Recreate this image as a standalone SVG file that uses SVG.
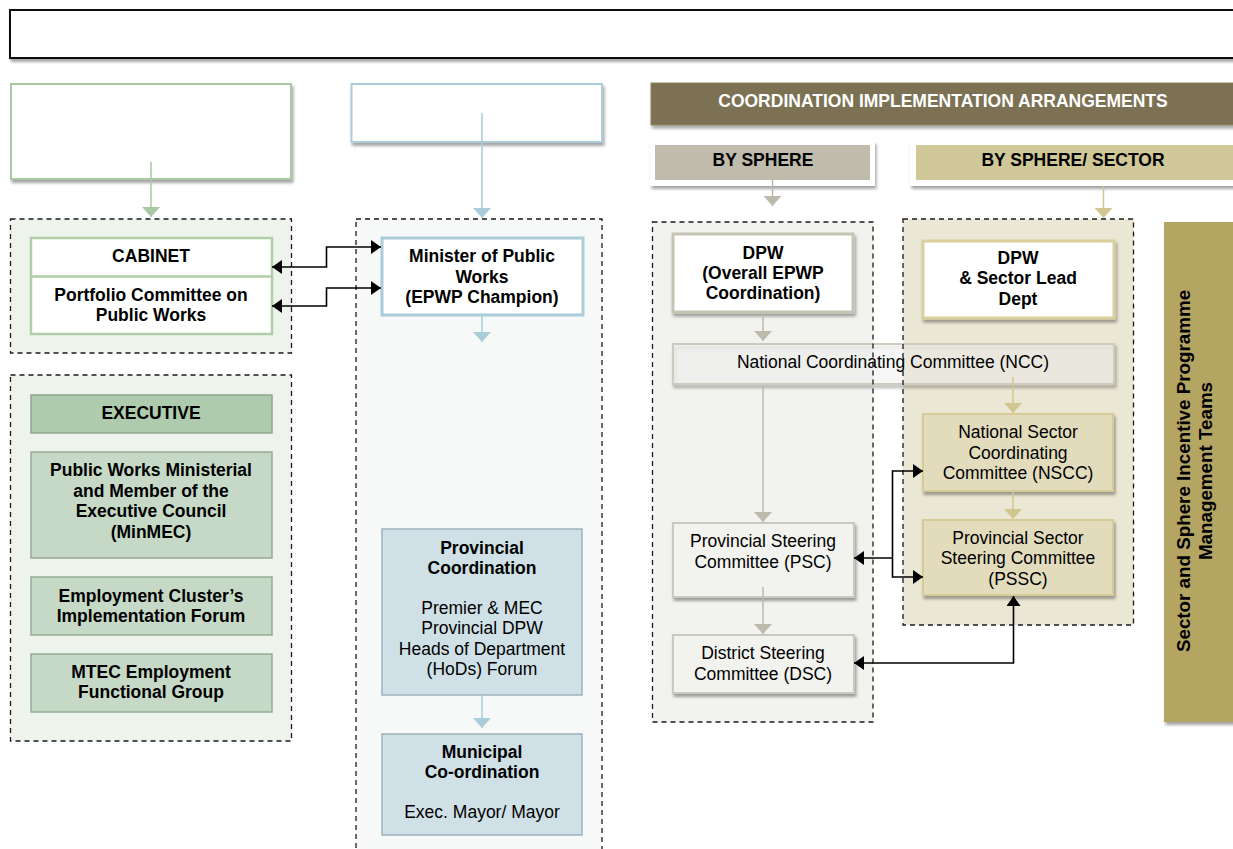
<svg xmlns="http://www.w3.org/2000/svg" width="1233" height="849" viewBox="0 0 1233 849">
<defs>
<filter id="sh" x="-10%" y="-10%" width="130%" height="140%">
<feDropShadow dx="1.5" dy="3" stdDeviation="1.8" flood-color="#000" flood-opacity="0.35"/>
</filter>
<marker id="aG" viewBox="0 0 10 18" refX="10" refY="9" markerWidth="10" markerHeight="18" orient="auto" markerUnits="userSpaceOnUse"><path d="M0,0 L10,9 L0,18 z" fill="#a9c8a3"/></marker>
<marker id="aB" viewBox="0 0 10 18" refX="10" refY="9" markerWidth="10" markerHeight="18" orient="auto" markerUnits="userSpaceOnUse"><path d="M0,0 L10,9 L0,18 z" fill="#a9cdd9"/></marker>
<marker id="aS" viewBox="0 0 10 18" refX="10" refY="9" markerWidth="10" markerHeight="18" orient="auto" markerUnits="userSpaceOnUse"><path d="M0,0 L10,9 L0,18 z" fill="#bcbaab"/></marker>
<marker id="aT" viewBox="0 0 10 18" refX="10" refY="9" markerWidth="10" markerHeight="18" orient="auto" markerUnits="userSpaceOnUse"><path d="M0,0 L10,9 L0,18 z" fill="#d2c690"/></marker>
<marker id="aK" viewBox="0 0 10 14" refX="10" refY="7" markerWidth="10" markerHeight="14" orient="auto-start-reverse" markerUnits="userSpaceOnUse"><path d="M0,0 L10,7 L0,14 z" fill="#000"/></marker>
</defs>
<style>
text{font-family:"Liberation Sans",Arial,Helvetica,sans-serif;font-size:17.5px;fill:#000;text-anchor:middle}
.b{font-weight:bold}
.w{fill:#fff}
.rot{font-size:18.8px}
.dash{fill:none;stroke:#1a1a1a;stroke-width:1.3;stroke-dasharray:5,4}
.cG{fill:none;stroke:#a9c8a3;stroke-width:1.5}
.cB{fill:none;stroke:#a9cdd9;stroke-width:1.5}
.cS{fill:none;stroke:#bcbaab;stroke-width:1.5}
.cT{fill:none;stroke:#d2c690;stroke-width:1.5}
.cK{fill:none;stroke:#000;stroke-width:1.6}
.exec{fill:#c6d9c6;stroke:#95aa95;stroke-width:1.5}
.blu{fill:#cfe0e6;stroke:#9db4bb;stroke-width:1.5}
.tan{fill:#e2dcbd;stroke:#d6cb97;stroke-width:2}
.gry{fill:#f2f2ee;stroke:#cac9bc;stroke-width:2}
</style>
<rect width="1233" height="849" fill="#fff"/>

<g id="title-frame">
<rect x="10" y="10" width="1240" height="48" fill="#fff" stroke="#111" stroke-width="2" filter="url(#sh)"/>
</g>

<g id="group-fills">
<rect x="10.5" y="219" width="281" height="134" fill="#eef4ec"/>
<rect x="10.5" y="375" width="281" height="366" fill="#eef4ec"/>
<rect x="356" y="219" width="246" height="640" fill="#f7f9f9"/>
<rect x="652.5" y="222" width="220.5" height="500" fill="#f2f2ee"/>
<rect x="903" y="219" width="230.5" height="406" fill="#ebe7d5"/>
</g>

<g id="node-ncc">
<rect x="673" y="344" width="441" height="40" fill="#fff" fill-opacity="0.35" stroke="#cdcbbd" stroke-width="2" filter="url(#sh)"/>
<text x="893" y="368">National Coordinating Committee (NCC)</text>
</g>

<g id="group-borders">
<rect class="dash" x="10.5" y="219" width="281" height="134"/>
<rect class="dash" x="10.5" y="375" width="281" height="366"/>
<rect class="dash" x="356" y="219" width="246" height="640"/>
<rect class="dash" x="652.5" y="222" width="220.5" height="500"/>
<rect class="dash" x="903" y="219" width="230.5" height="406"/>
</g>

<g id="header-green">
<rect x="11" y="84" width="280" height="95" fill="#fff" stroke="#a9c8a3" stroke-width="2" filter="url(#sh)"/>
</g>
<g id="header-blue">
<rect x="351.5" y="84" width="250.5" height="58" fill="#fff" stroke="#a9cdd9" stroke-width="2" filter="url(#sh)"/>
</g>
<g id="header-coordination">
<rect x="651" y="83" width="600" height="42" fill="#7b7253" stroke="#8d8560" stroke-width="1" filter="url(#sh)"/>
<text class="b w" x="943" y="107">COORDINATION IMPLEMENTATION ARRANGEMENTS</text>
</g>
<g id="header-sphere">
<rect x="650" y="141" width="225" height="45" fill="#fff" filter="url(#sh)"/>
<rect x="655" y="145" width="215" height="35" fill="#bfbcad"/>
<text class="b" x="763" y="166">BY SPHERE</text>
</g>
<g id="header-sphere-sector">
<rect x="910" y="141" width="340" height="45" fill="#fff" filter="url(#sh)"/>
<rect x="916" y="145" width="330" height="35" fill="#d1c899"/>
<text class="b" x="1073" y="166">BY SPHERE/ SECTOR</text>
</g>

<g id="node-cabinet">
<rect x="31" y="238" width="241" height="96" fill="#fff" stroke="#b0cfa9" stroke-width="2.5"/>
<line x1="31" y1="276.5" x2="272" y2="276.5" stroke="#b0cfa9" stroke-width="2.5"/>
<text class="b" x="151" y="262">CABINET</text>
<text class="b" x="151" y="301">Portfolio Committee on</text>
<text class="b" x="151" y="321">Public Works</text>
</g>

<g id="node-executive">
<rect x="31" y="395" width="241" height="38" fill="#afcbad" stroke="#8fa58c" stroke-width="1.5"/>
<text class="b" x="151" y="419">EXECUTIVE</text>
</g>
<g id="node-minmec">
<rect class="exec" x="31" y="452" width="241" height="106"/>
<text class="b" x="151" y="476">Public Works Ministerial</text>
<text class="b" x="151" y="496.5">and Member of the</text>
<text class="b" x="151" y="517">Executive Council</text>
<text class="b" x="151" y="537.5">(MinMEC)</text>
</g>
<g id="node-employment-cluster">
<rect class="exec" x="31" y="577" width="241" height="58"/>
<text class="b" x="151" y="602">Employment Cluster’s</text>
<text class="b" x="151" y="622">Implementation Forum</text>
</g>
<g id="node-mtec">
<rect class="exec" x="31" y="654" width="241" height="58"/>
<text class="b" x="151" y="678">MTEC Employment</text>
<text class="b" x="151" y="698">Functional Group</text>
</g>

<g id="node-minister">
<rect x="382" y="238" width="201" height="77" fill="#fff" stroke="#a9cdd9" stroke-width="3"/>
<text class="b" x="482" y="262">Minister of Public</text>
<text class="b" x="482" y="283">Works</text>
<text class="b" x="482" y="303">(EPWP Champion)</text>
</g>
<g id="node-provincial-coordination">
<rect class="blu" x="382" y="529" width="200" height="166"/>
<text class="b" x="482" y="554">Provincial</text>
<text class="b" x="482" y="574">Coordination</text>
<text x="482" y="614">Premier &amp; MEC</text>
<text x="482" y="634">Provincial DPW</text>
<text x="482" y="655">Heads of Department</text>
<text x="482" y="675">(HoDs) Forum</text>
</g>
<g id="node-municipal">
<rect class="blu" x="382" y="734" width="200" height="101"/>
<text class="b" x="482" y="758">Municipal</text>
<text class="b" x="482" y="778">Co-ordination</text>
<text x="482" y="818">Exec. Mayor/ Mayor</text>
</g>

<g id="node-dpw">
<rect x="673" y="234" width="180" height="78" fill="#fff" stroke="#c5c3b4" stroke-width="3" filter="url(#sh)"/>
<text class="b" x="763" y="259">DPW</text>
<text class="b" x="763" y="279">(Overall EPWP</text>
<text class="b" x="763" y="299">Coordination)</text>
</g>
<g id="node-dpw-sector">
<rect x="923" y="241" width="191" height="77" fill="#fff" stroke="#dacf9b" stroke-width="3" filter="url(#sh)"/>
<text class="b" x="1018" y="264">DPW</text>
<text class="b" x="1018" y="284">&amp; Sector Lead</text>
<text class="b" x="1018" y="305">Dept</text>
</g>
<g id="node-nscc">
<rect class="tan" x="923" y="414" width="190" height="77" filter="url(#sh)"/>
<text x="1018" y="438">National Sector</text>
<text x="1018" y="459">Coordinating</text>
<text x="1018" y="479">Committee (NSCC)</text>
</g>
<g id="node-pssc">
<rect class="tan" x="923" y="520" width="190" height="75" filter="url(#sh)"/>
<text x="1018" y="544">Provincial Sector</text>
<text x="1018" y="564">Steering Committee</text>
<text x="1018" y="585">(PSSC)</text>
</g>
<g id="node-psc">
<rect class="gry" x="673" y="523" width="181" height="74" filter="url(#sh)"/>
<text x="763" y="547">Provincial Steering</text>
<text x="763" y="568">Committee (PSC)</text>
</g>
<g id="node-dsc">
<rect class="gry" x="673" y="635" width="181" height="58" filter="url(#sh)"/>
<text x="763" y="659">District Steering</text>
<text x="763" y="680">Committee (DSC)</text>
</g>

<g id="node-management-teams">
<rect x="1164" y="222" width="90" height="500" fill="#b4a563" filter="url(#sh)"/>
<text class="b rot" transform="rotate(-90 1190 471)" x="1190" y="471">Sector and Sphere Incentive Programme</text>
<text class="b rot" transform="rotate(-90 1212 471)" x="1212" y="471">Management Teams</text>
</g>

<g id="connectors">
<path class="cG" d="M151,162 V217" marker-end="url(#aG)"/>
<path class="cB" d="M482,113 V218" marker-end="url(#aB)"/>
<path class="cB" d="M482,315 V342" marker-end="url(#aB)"/>
<path class="cB" d="M482,695 V728" marker-end="url(#aB)"/>
<path class="cK" d="M272,267 H326.5 V247 H381" marker-start="url(#aK)" marker-end="url(#aK)"/>
<path class="cK" d="M272,306 H326.5 V288 H381" marker-start="url(#aK)" marker-end="url(#aK)"/>
<path class="cS" d="M772.5,180 V206" marker-end="url(#aS)"/>
<path class="cT" d="M1103.5,186 V218" marker-end="url(#aT)"/>
<path class="cS" d="M763,312 V341" marker-end="url(#aS)"/>
<path class="cS" d="M763,385 V522" marker-end="url(#aS)"/>
<path class="cT" d="M1013,377 V413" marker-end="url(#aT)"/>
<path class="cT" d="M1013,491 V519" marker-end="url(#aT)"/>
<path class="cS" d="M763,587 V634" marker-end="url(#aS)"/>
<path class="cK" d="M923,471 H892.5 V577 H923" marker-start="url(#aK)" marker-end="url(#aK)"/>
<path class="cK" d="M892.5,558 H854" marker-end="url(#aK)"/>
<path class="cK" d="M854,663 H1013.5 V596" marker-start="url(#aK)" marker-end="url(#aK)"/>
</g>
</svg>
